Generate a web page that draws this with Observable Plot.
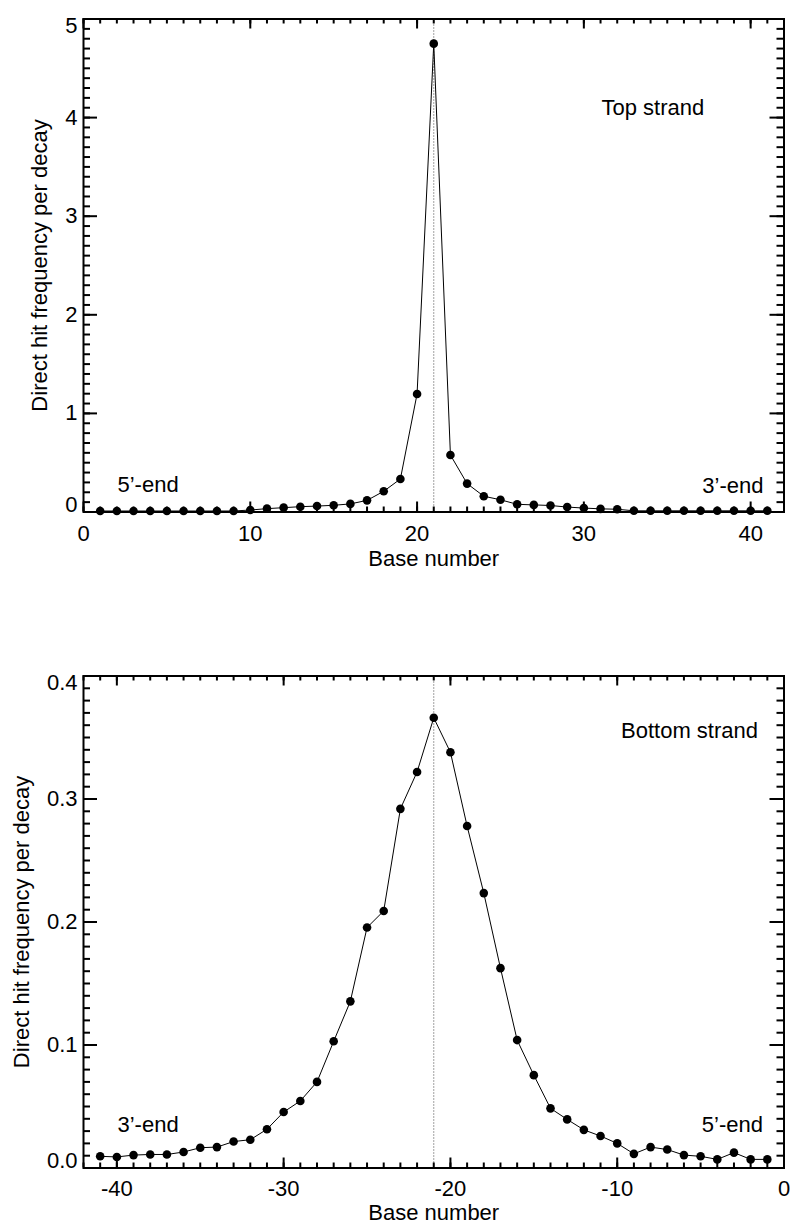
<!DOCTYPE html>
<html>
<head>
<meta charset="utf-8">
<script src="https://cdn.jsdelivr.net/npm/d3@7"></script>
<script src="https://cdn.jsdelivr.net/npm/@observablehq/plot@0.6"></script>
<style>
  html, body { margin: 0; padding: 0; background: #fff; }
  #chart { width: 792px; }
  #chart svg { display: block; }
</style>
</head>
<body>
<div id="chart"></div>
<script>
// Top strand: direct hit frequency per decay at each base position
const topBases = [1, 2, 3, 4, 5, 6, 7, 8, 9, 10, 11, 12, 13, 14, 15, 16, 17, 18, 19, 20,
  21, 22, 23, 24, 25, 26, 27, 28, 29, 30, 31, 32, 33, 34, 35, 36, 37, 38, 39, 40, 41];
const topHits = [0.010, 0.010, 0.010, 0.010, 0.010, 0.010, 0.010, 0.010, 0.010, 0.020,
  0.034, 0.044, 0.054, 0.060, 0.068, 0.082, 0.118, 0.210, 0.335, 1.197,
  4.750, 0.578, 0.288, 0.160, 0.124, 0.078, 0.072, 0.066, 0.050, 0.040,
  0.032, 0.028, 0.012, 0.012, 0.012, 0.012, 0.012, 0.012, 0.012, 0.012, 0.012];

// Bottom strand
const bottomBases = [-41, -40, -39, -38, -37, -36, -35, -34, -33, -32, -31, -30, -29, -28,
  -27, -26, -25, -24, -23, -22, -21, -20, -19, -18, -17, -16, -15, -14, -13, -12, -11,
  -10, -9, -8, -7, -6, -5, -4, -3, -2, -1];
const bottomHits = [0.0095, 0.0090, 0.0105, 0.0110, 0.0110, 0.0130, 0.0165, 0.0170, 0.0215,
  0.0230, 0.0315, 0.0455, 0.0545, 0.0700, 0.1030, 0.1355, 0.1955, 0.2090, 0.2920, 0.3220,
  0.3660, 0.3380, 0.2780, 0.2235, 0.1625, 0.1040, 0.0755, 0.0485, 0.0395, 0.0310, 0.0260,
  0.0200, 0.0115, 0.0170, 0.0150, 0.0105, 0.0095, 0.0070, 0.0125, 0.0070, 0.0070];

// Axis ticks
const topXTicks = [0, 10, 20, 30, 40];
const topYTicks = [0, 1, 2, 3, 4, 5];
const bottomXTicks = [-40, -30, -20, -10, 0];
const bottomYTicks = [0, 0.1, 0.2, 0.3, 0.4];

const FONT = "'Liberation Sans', Arial, Helvetica, sans-serif";
const FS = 22;

function panel(o) {
  const W = 792, ML = 83, MR = 8.5;
  const pw = W - ML - MR;
  const ph = o.height - o.marginTop - o.marginBottom;
  const rows = o.bases.map((b, i) => ({base: b, hit: o.hits[i]}));
  const yMid = o.yTicks.slice(1, -1);
  const yLo = o.yTicks.slice(0, 1);
  const yHi = o.yTicks.slice(-1);
  const yAxisOpts = {tickSize: 0, tickPadding: 6, tickFormat: o.yFormat, fontSize: FS, label: null};
  const tick = {stroke: "black", strokeWidth: 2};
  const txt = (s, opts) => Plot.text([s], {text: d => d, fontSize: FS, lineAnchor: "middle", ...opts});

  return Plot.plot({
    width: W,
    height: o.height,
    marginLeft: ML,
    marginRight: MR,
    marginTop: o.marginTop,
    marginBottom: o.marginBottom,
    style: {fontFamily: FONT, fontSize: FS + "px", color: "black", background: "white"},
    x: {domain: o.xDomain, nice: false},
    y: {domain: o.yDomain, nice: false},
    marks: [
      // center of the decay site
      Plot.ruleX([o.center], {stroke: "#444", strokeWidth: 1, strokeDasharray: "1 2"}),
      Plot.line(rows, {x: "base", y: "hit", stroke: "black", strokeWidth: 1}),
      Plot.dot(rows, {x: "base", y: "hit", r: 4.3, fill: "black"}),

      // inward tick marks on all four sides
      Plot.tickX(o.xMinor, {x: d => d, insetTop: ph - 5, ...tick}),
      Plot.tickX(o.xMinor, {x: d => d, insetBottom: ph - 5, ...tick}),
      Plot.tickX(o.xTicks, {x: d => d, insetTop: ph - 10, ...tick}),
      Plot.tickX(o.xTicks, {x: d => d, insetBottom: ph - 10, ...tick}),
      Plot.tickY(o.yMinor, {y: d => d, insetRight: pw - 7, ...tick}),
      Plot.tickY(o.yMinor, {y: d => d, insetLeft: pw - 7, ...tick}),
      Plot.tickY(o.yTicks, {y: d => d, insetRight: pw - 14, ...tick}),
      Plot.tickY(o.yTicks, {y: d => d, insetLeft: pw - 14, ...tick}),
      Plot.frame({stroke: "black", strokeWidth: 2}),

      // tick labels
      Plot.axisX(o.xTicks, {tickSize: 0, tickPadding: o.xTickPad, tickFormat: d => String(d), fontSize: FS, label: null}),
      Plot.axisY(yMid, yAxisOpts),
      Plot.axisY(yLo, {...yAxisOpts, dy: -7}),
      Plot.axisY(yHi, {...yAxisOpts, dy: 6.5}),

      // axis titles
      txt("Base number", {frameAnchor: "bottom", textAnchor: "middle", dy: o.xLabelDy}),
      txt("Direct hit frequency per decay", {frameAnchor: "left", textAnchor: "middle", dx: o.yLabelDx, rotate: -90}),

      // annotations
      ...o.notes.map(n => txt(n.text, n.opts))
    ]
  });
}

const topPanel = panel({
  bases: topBases, hits: topHits,
  xDomain: [0, 42], yDomain: [0, 5],
  xTicks: topXTicks, yTicks: topYTicks,
  xMinor: d3.range(0, 43), yMinor: d3.range(0, 51).map(i => i / 10),
  yFormat: d => String(d),
  center: 21,
  height: 612, marginTop: 18.5, marginBottom: 100.5,
  xTickPad: 13, xLabelDy: 47, yLabelDx: -43.5,
  notes: [
    {text: "Top strand", opts: {frameAnchor: "top-left", textAnchor: "start", dx: 518, dy: 88.5}},
    {text: "5\u2019-end", opts: {frameAnchor: "bottom-left", textAnchor: "start", dx: 34, dy: -27}},
    {text: "3\u2019-end", opts: {frameAnchor: "bottom-right", textAnchor: "end", dx: -20.5, dy: -26.5}}
  ]
});

const bottomPanel = panel({
  bases: bottomBases, hits: bottomHits,
  xDomain: [-42, 0], yDomain: [0, 0.4],
  xTicks: bottomXTicks, yTicks: bottomYTicks,
  xMinor: d3.range(-42, 1), yMinor: d3.range(0, 41).map(i => i / 100),
  yFormat: d3.format(".1f"),
  center: -21,
  height: 613, marginTop: 63.5, marginBottom: 57.5,
  xTickPad: 12, xLabelDy: 45, yLabelDx: -61.7,
  notes: [
    {text: "Bottom strand", opts: {frameAnchor: "top-right", textAnchor: "end", dx: -26, dy: 54.5}},
    {text: "3\u2019-end", opts: {frameAnchor: "bottom-left", textAnchor: "start", dx: 34, dy: -43}},
    {text: "5\u2019-end", opts: {frameAnchor: "bottom-right", textAnchor: "end", dx: -21, dy: -43}}
  ]
});

const chart = document.getElementById("chart");
chart.append(topPanel, bottomPanel);
</script>
</body>
</html>
